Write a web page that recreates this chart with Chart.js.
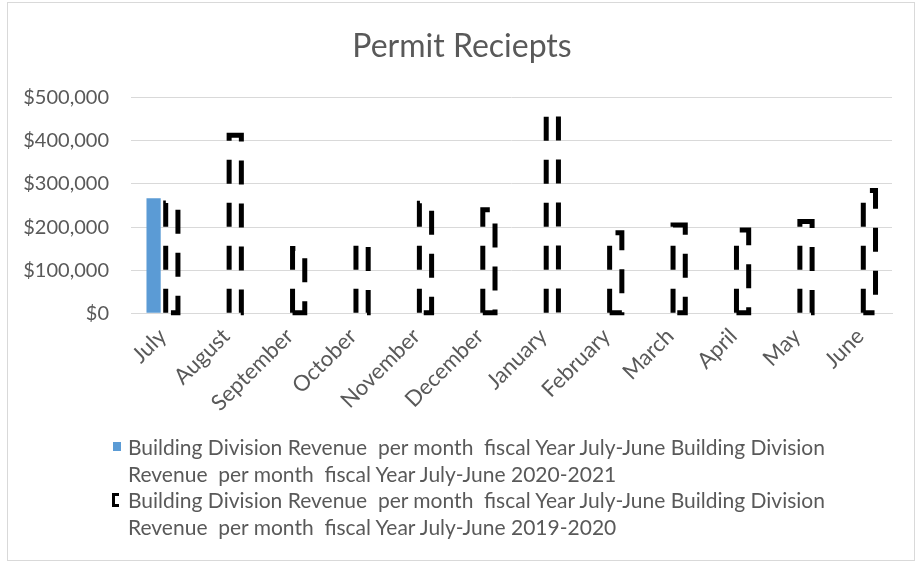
<!DOCTYPE html>
<html><head><meta charset="utf-8">
<script src="https://cdn.jsdelivr.net/npm/chart.js@4.4.1/dist/chart.umd.min.js"></script>
<style>
html,body{margin:0;padding:0;background:#fff;}
#wrap{position:relative;width:920px;height:565px;overflow:hidden;background:#fff;}
#frame{position:absolute;left:7px;top:2px;width:908px;height:559px;border:1px solid #d9d9d9;box-sizing:border-box;}
canvas{position:absolute;left:0;top:0;}
#legend{position:absolute;left:112px;top:434px;font-family:Lato,sans-serif;font-size:21px;color:#595959;}
.item{position:relative;padding-left:16px;width:725px;white-space:pre-wrap;line-height:26.5px;}
.sw{position:absolute;left:0;}
.sw0{top:8px;width:8px;height:9px;background:#5b9bd5;left:1px;}
.sw1{top:6px;width:4px;height:8px;border:3px solid #000;border-right:none;left:0;}
</style></head>
<body><div id="wrap"><div id="frame"></div><canvas id="c" width="920" height="565"></canvas><div id="legend"></div></div>
<script>
const chartTitle = 'Permit Reciepts';
const months = ['July','August','September','October','November','December','January','February','March','April','May','June'];
const seriesNames = [
  'Building Division Revenue  per month  fiscal Year July-June Building Division Revenue  per month  fiscal Year July-June 2020-2021',
  'Building Division Revenue  per month  fiscal Year July-June Building Division Revenue  per month  fiscal Year July-June 2019-2020'
];
const revenue2020_2021 = [267000, null, null, null, null, null, null, null, null, null, null, null];
const revenue2019_2020 = [256000, 413000, 150000, 163000, 255000, 240000, 464000, 187000, 205000, 193000, 213000, 285000];
const yMin = 0, yMax = 500000, yStep = 100000;

const TEXT = '#595959';
const dashedBars = {
  id: 'dashedBars',
  afterLayout(chart) {
    if (chart.titleBlock) { chart.titleBlock.left = 32; }
  },
  afterDatasetsDraw(chart) {
    const meta = chart.getDatasetMeta(1);
    const ctx = chart.ctx;
    ctx.save();
    ctx.strokeStyle = '#000';
    ctx.lineWidth = 5;
    ctx.setLineDash([24, 19]);
    ctx.lineCap = 'butt';
    ctx.lineJoin = 'miter';
    meta.data.forEach(el => {
      const p = el.getProps(['x', 'y', 'base', 'width'], true);
      if (p.y == null || isNaN(p.y)) return;
      const l = p.x - p.width / 2 + 1, r = p.x + p.width / 2 - 1;
      ctx.beginPath();
      ctx.moveTo(l, p.base);
      ctx.lineTo(l, p.y);
      ctx.lineTo(r, p.y);
      ctx.lineTo(r, p.base);
      ctx.lineTo(l, p.base);
      ctx.stroke();
    });
    ctx.restore();
  }
};

const chart = new Chart(document.getElementById('c'), {
  type: 'bar',
  data: {
    labels: months,
    datasets: [
      { label: seriesNames[0], data: revenue2020_2021, backgroundColor: '#5b9bd5', borderWidth: 0,
        categoryPercentage: 0.575, barPercentage: 0.78 },
      { label: seriesNames[1], data: revenue2019_2020, backgroundColor: 'rgba(255,255,255,0)', borderWidth: 0,
        categoryPercentage: 0.575, barPercentage: 0.78 }
    ]
  },
  options: {
    responsive: false,
    animation: false,
    devicePixelRatio: 1,
    layout: { padding: { left: 0, right: 28, top: 0, bottom: 0 } },
    plugins: {
      legend: { display: false },
      tooltip: { enabled: false },
      title: {
        display: true, text: chartTitle, color: TEXT,
        font: { family: 'Lato', size: 32, weight: 'normal', lineHeight: 1.2 },
        padding: { top: 27, bottom: 32.3 }
      }
    },
    scales: {
      x: {
        grid: { display: false, drawTicks: false },
        border: { display: true, color: '#d9d9d9', width: 1 },
        ticks: { color: TEXT, font: { family: 'Lato', size: 22 }, maxRotation: 45, minRotation: 45, padding: 10, autoSkip: false },
        afterFit(scale) { scale.height = 565 - 313.3; }
      },
      y: {
        min: yMin, max: yMax,
        grid: { color: '#d9d9d9', lineWidth: 1, drawTicks: false },
        border: { display: false },
        ticks: { stepSize: yStep, color: TEXT, font: { family: 'Lato', size: 20 }, padding: 22,
          callback: v => '$' + Number(v).toLocaleString('en-US') },
        afterFit(scale) { scale.width = 131; }
      }
    }
  },
  plugins: [dashedBars]
});

const legend = document.getElementById('legend');
chart.data.datasets.forEach((ds, i) => {
  const item = document.createElement('div');
  item.className = 'item';
  const sw = document.createElement('span');
  sw.className = 'sw sw' + i;
  item.appendChild(sw);
  item.appendChild(document.createTextNode(ds.label));
  legend.appendChild(item);
});
</script>
</body></html>
